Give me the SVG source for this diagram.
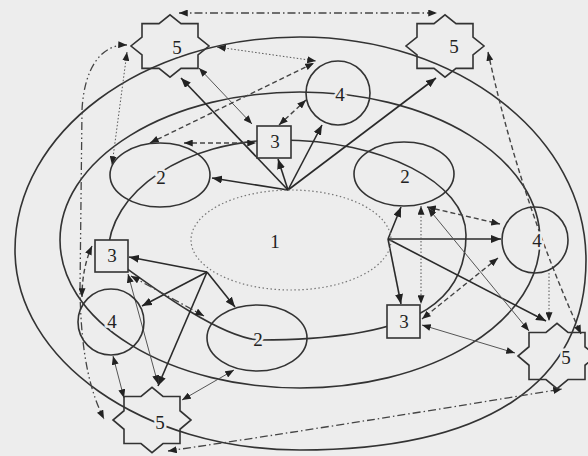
<svg xmlns="http://www.w3.org/2000/svg" xmlns:xlink="http://www.w3.org/1999/xlink" width="588" height="456" viewBox="0 0 588 456">
<style>
.ring{fill:none;stroke:#333;stroke-width:1.6}
.core{fill:none;stroke:#777;stroke-width:1.2;stroke-dasharray:1.5 2.5}
.node{fill:none;stroke:#333;stroke-width:1.6}
.box{fill:#ededed;stroke:#333;stroke-width:1.6}
.hub{fill:none;stroke:#2a2a2a;stroke-width:1.6;marker-end:url(#a)}
.thin{fill:none;stroke:#555;stroke-width:1}
.dot{fill:none;stroke:#555;stroke-width:1;stroke-dasharray:1.5 2}
.dash{fill:none;stroke:#444;stroke-width:1.4;stroke-dasharray:5 3}
.dd{fill:none;stroke:#444;stroke-width:1.3;stroke-dasharray:8 3 1.5 3}
.ddd{fill:none;stroke:#444;stroke-width:1.3;stroke-dasharray:8 3 1.5 3 1.5 3}
.bi{marker-start:url(#b);marker-end:url(#b)}
.one{marker-end:url(#b)}
text{font-family:"Liberation Serif","Times New Roman",serif;font-size:19px;fill:#222;text-anchor:middle;stroke:#ededed;stroke-width:5;paint-order:stroke}
</style>
<defs>
<marker id="a" viewBox="0 0 10 8" refX="10" refY="4" markerWidth="10" markerHeight="8" markerUnits="userSpaceOnUse" orient="auto-start-reverse"><path d="M0,0 L10,4 L0,8 Z" fill="#222"/></marker>
<marker id="b" viewBox="0 0 10 8" refX="10" refY="4" markerWidth="9" markerHeight="7" markerUnits="userSpaceOnUse" orient="auto-start-reverse"><path d="M0,0 L10,4 L0,8 Z" fill="#222"/></marker>
<polygon id="star" points="-28,-22.4 -11,-22.4 0,-31.2 11,-22.4 28,-22.4 28,-8.8 39,0 28,8.8 28,22.4 11,22.4 0,31.2 -11,22.4 -28,22.4 -28,8.8 -39,0 -28,-8.8"/>
</defs>
<rect width="588" height="456" fill="#ededed"/>
<g id="rings">
<path class="ring" d="M15,250 C15,132 143,37 300,37 C458,37 586,137 586,260 C586,384 486,450 300,450 C143,450 15,360 15,250 Z"/>
<ellipse class="ring" cx="300" cy="240" rx="240" ry="148"/>
<path class="ring" d="M108,255 C108,191.5 185,140 280,140 C382.7,140 466,182.6 466,235 C466,308.5 404,340 260,340 C215,338 130,270 108,255 Z"/>
</g>
<g id="connectors">
<path class="hub" d="M288,190 L212,178"/>
<path class="hub" d="M288,190 L278,159"/>
<path class="hub" d="M288,190 L322,125"/>
<path class="hub" d="M288,190 L181,78"/>
<path class="hub" d="M288,190 L436,78"/>
<path class="hub" d="M388,239 L401,207"/>
<path class="hub" d="M388,239 L501,239"/>
<path class="hub" d="M388,239 L401,304"/>
<path class="hub" d="M388,239 L546,321"/>
<path class="hub" d="M207,272 L129,257"/>
<path class="hub" d="M207,272 L142,306"/>
<path class="hub" d="M207,272 L235,307"/>
<path class="hub" d="M207,272 L158,386"/>
<path class="dd bi" d="M179,13 L437,13"/>
<path class="ddd bi" d="M127,45 C100,44 84,70 82,110 L80,290 C81,360 92,395 104,419"/>
<path class="dd bi" d="M168,451 Q350,424 562,389"/>
<path class="dash bi" d="M488,52 Q520,200 581,334"/>
<path class="dot bi" d="M217,47 L316,61"/>
<path class="thin bi" d="M199,68 L252,124"/>
<path class="dot bi" d="M127,52 L112,165"/>
<path class="dash bi" d="M150,143 L314,63"/>
<path class="dash bi" d="M184,143 L256,143"/>
<path class="dash bi" d="M279,125 L306,100"/>
<path class="dot bi" d="M421,206 L421,304"/>
<path class="dash bi" d="M427,207 L500,224"/>
<path class="thin bi" d="M428,208 L529,331"/>
<path class="dash bi" d="M498,258 L422,319"/>
<path class="thin bi" d="M422,325 L515,353"/>
<path class="dot one" d="M549,273 L549,321"/>
<path class="dash bi" d="M92,246 Q82,268 82,297"/>
<path class="dd bi" d="M131,276 L204,316"/>
<path class="thin bi" d="M128,274 L158,384"/>
<path class="thin bi" d="M113,356 L124,398"/>
<path class="thin bi" d="M234,370 L182,400"/>
</g>
<g id="n1"><ellipse class="core" cx="291" cy="240" rx="100" ry="50"/><text x="275" y="248">1</text></g>
<g id="n2-tl"><ellipse class="node" cx="160" cy="175" rx="50" ry="32"/><text x="161" y="184">2</text></g>
<g id="n2-tr"><ellipse class="node" cx="404" cy="174" rx="50" ry="32"/><text x="405" y="183">2</text></g>
<g id="n2-b"><ellipse class="node" cx="257" cy="338" rx="50" ry="33"/><text x="258" y="346">2</text></g>
<g id="n3-top"><rect class="box" x="257" y="126" width="34" height="32"/><text x="275" y="148">3</text></g>
<g id="n3-left"><rect class="box" x="95" y="240" width="33" height="32"/><text x="112" y="262">3</text></g>
<g id="n3-br"><rect class="box" x="387" y="305" width="33" height="33"/><text x="404" y="328">3</text></g>
<g id="n4-top"><circle class="node" cx="338" cy="93" r="32"/><text x="340" y="101">4</text></g>
<g id="n4-right"><circle class="node" cx="535" cy="240" r="33"/><text x="537" y="247">4</text></g>
<g id="n4-left"><circle class="node" cx="111" cy="322" r="33"/><text x="112" y="328">4</text></g>
<g id="n5-tl"><use xlink:href="#star" href="#star" class="node" transform="translate(170,46)"/><text x="177" y="54">5</text></g>
<g id="n5-tr"><use xlink:href="#star" href="#star" class="node" transform="translate(445,46)"/><text x="454" y="53">5</text></g>
<g id="n5-r"><use xlink:href="#star" href="#star" class="node" transform="translate(557,356) scale(1,1.05)"/><text x="566" y="364">5</text></g>
<g id="n5-b"><use xlink:href="#star" href="#star" class="node" transform="translate(152,420) scale(1,1.05)"/><text x="160" y="429">5</text></g>
</svg>
